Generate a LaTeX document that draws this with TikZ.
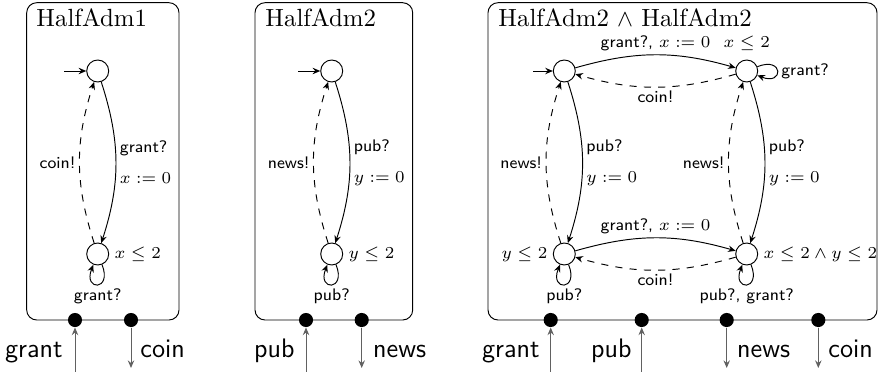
\documentclass[tikz,border=0pt]{standalone}
\usetikzlibrary{arrows.meta}
\begin{document}
\begin{tikzpicture}[x=0.4185pt,y=-0.4185pt,
  >={Stealth[length=3.2pt,width=2.7pt,inset=1.1pt]},
  box/.style={draw,rounded corners=4.2pt},
  title/.style={anchor=base west,inner sep=0pt,font=\fontsize{10.4pt}{12pt}\selectfont},
  state/.style={circle,draw,minimum size=9.2pt,inner sep=0pt},
  lbl/.style={font=\sffamily\scriptsize,inner sep=1.5pt},
  slbl/.style={font=\scriptsize,inner sep=1.5pt},
  trans/.style={->},
  back/.style={->,dashed},
  port/.style={circle,fill,inner sep=0pt,minimum size=5.9pt},
  portline/.style={->,draw=black!62,fill=black!62},
  plabel/.style={font=\sffamily\fontsize{11.2pt}{13pt}\selectfont,inner sep=0pt},
  label distance=0.6pt]
\useasboundingbox (0,0) rectangle (878,372);

% ---------------- HalfAdm1 ----------------
\draw[box] (26.7,2.7) rectangle (179,320);
\node[title] (t1) at (36,27) {HalfAdm1};
\coordinate (i1) at (64,71);
\node[state] (s1) at (97.7,71) {};
\node[state,label={[slbl]right:$x\le 2$}] (s2) at (97.7,254) {};
\draw[trans] (i1) -- (s1);
\draw[trans] (s1) to[bend left=18]
  node[lbl,right,align=left,midway] {grant?\\[5pt]$x:=0$} (s2);
\draw[back] (s2) to[bend left=18] node[lbl,left,midway] {coin!} (s1);
\draw[trans] (s2) to[out=-68,in=-112,distance=12pt]
  node[lbl,below,midway] {grant?} (s2);
\node[port] (p1a) at (75,320) {};
\node[port] (p1b) at (131,320) {};
\coordinate (q1a) at (75,372);
\coordinate (q1b) at (131,368);
\draw[portline] (q1a) -- (p1a);
\draw[portline] (p1b) -- (q1b);
\node[plabel,anchor=base east] (l1a) at (63,357) {grant};
\node[plabel,anchor=base west] (l1b) at (140,357) {coin};

% ---------------- HalfAdm2 ----------------
\draw[box] (255,2.7) rectangle (412.7,320);
\node[title] (t2) at (265,27) {HalfAdm2};
\coordinate (i2) at (298,71);
\node[state] (u1) at (331.7,71) {};
\node[state,label={[slbl]right:$y\le 2$}] (u2) at (331.7,254) {};
\draw[trans] (i2) -- (u1);
\draw[trans] (u1) to[bend left=18]
  node[lbl,right,align=left,midway] {pub?\\[5pt]$y:=0$} (u2);
\draw[back] (u2) to[bend left=18] node[lbl,left,midway] {news!} (u1);
\draw[trans] (u2) to[out=-68,in=-112,distance=12pt]
  node[lbl,below,midway] {pub?} (u2);
\node[port] (p2a) at (306,320) {};
\node[port] (p2b) at (361.7,320) {};
\coordinate (q2a) at (306,372);
\coordinate (q2b) at (361.7,368);
\draw[portline] (q2a) -- (p2a);
\draw[portline] (p2b) -- (q2b);
\node[plabel,anchor=base east] (l2a) at (295,357) {pub};
\node[plabel,anchor=base west] (l2b) at (372.7,357) {news};

% ---------------- product ----------------
\draw[box] (488,2.7) rectangle (877,320);
\node[title] (t3) at (498,27) {HalfAdm2 $\wedge$ HalfAdm2};
\coordinate (i3) at (533,71);
\node[state] (a) at (564.3,71) {};
\node[state,label={[slbl,label distance=2pt]above:$x\le 2$}] (b) at (746.7,71) {};
\node[state,label={[slbl]left:$y\le 2$}] (c) at (564.3,254) {};
\node[state,label={[slbl]right:$x\le 2\wedge y\le 2$}] (d) at (746.7,254) {};
\draw[trans] (i3) -- (a);
% top row
\draw[trans] (a) to[bend left=16]
  node[lbl,above,midway] {grant?, $x:=0$} (b);
\draw[back] (b) to[bend left=16] node[lbl,below,midway] {coin!} (a);
\draw[trans] (b) to[out=22,in=-22,distance=12pt]
  node[lbl,right,midway] {grant?} (b);
% bottom row
\draw[trans] (c) to[bend left=16]
  node[lbl,above,midway] {grant?, $x:=0$} (d);
\draw[back] (d) to[bend left=16] node[lbl,below,midway] {coin!} (c);
\draw[trans] (c) to[out=-68,in=-112,distance=12pt]
  node[lbl,below,midway] {pub?} (c);
\draw[trans] (d) to[out=-68,in=-112,distance=12pt]
  node[lbl,below,midway] {pub?, grant?} (d);
% columns
\draw[trans] (a) to[bend left=18]
  node[lbl,right,align=left,midway] {pub?\\[5pt]$y:=0$} (c);
\draw[back] (c) to[bend left=18] node[lbl,left,midway] {news!} (a);
\draw[trans] (b) to[bend left=18]
  node[lbl,right,align=left,midway] {pub?\\[5pt]$y:=0$} (d);
\draw[back] (d) to[bend left=18] node[lbl,left,midway] {news!} (b);
% ports
\node[port] (p3a) at (550.7,320) {};
\node[port] (p3b) at (641.7,320) {};
\node[port] (p3c) at (726.7,320) {};
\node[port] (p3d) at (818.3,320) {};
\coordinate (q3a) at (550.7,372);
\coordinate (q3b) at (641.7,372);
\coordinate (q3c) at (726.7,368);
\coordinate (q3d) at (818.3,368);
\draw[portline] (q3a) -- (p3a);
\draw[portline] (q3b) -- (p3b);
\draw[portline] (p3c) -- (q3c);
\draw[portline] (p3d) -- (q3d);
\node[plabel,anchor=base east] (l3a) at (540,357) {grant};
\node[plabel,anchor=base east] (l3b) at (632,357) {pub};
\node[plabel,anchor=base west] (l3c) at (736.7,357) {news};
\node[plabel,anchor=base west] (l3d) at (828,357) {coin};
\end{tikzpicture}
\end{document}
